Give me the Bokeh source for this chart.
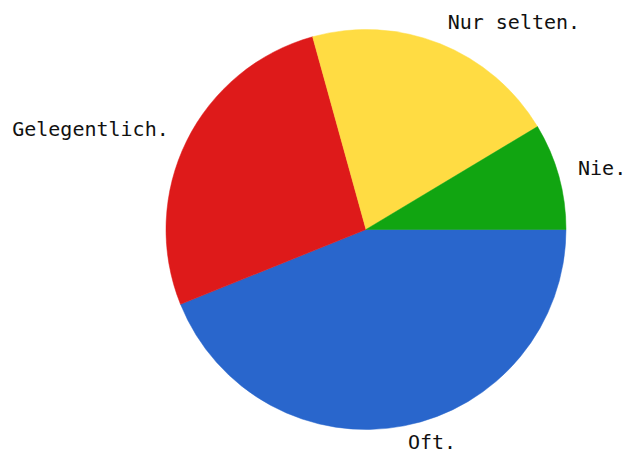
import numpy as np
from bokeh.plotting import figure
from bokeh.models import ColumnDataSource
from bokeh.core.properties import value
from bokeh.embed import file_html
from bokeh.resources import INLINE

# Data (clockwise from 3 o'clock)
categories = ["Oft.", "Gelegentlich.", "Nur selten.", "Nie."]
shares = [43.9, 26.8, 20.7, 8.6]
colors = ["#2966CC", "#DE1A1A", "#FFDC43", "#11A511"]

W, H = 627, 456
cx, cy, r = 365.5, 227.0, 200.0

vals = np.array(shares, dtype=float)
frac = vals / vals.sum()
cum = np.cumsum(frac) * 2 * np.pi
start = -np.concatenate([[0.0], cum[:-1]])
end = -cum
mid = (start + end) / 2

src = ColumnDataSource(dict(start=start, end=end, color=colors, cat=categories))

p = figure(width=W, height=H, x_range=(0, W), y_range=(0, H),
           output_backend="svg", toolbar_location=None, min_border=0)
p.axis.visible = False
p.grid.visible = False
p.outline_line_color = None
p.background_fill_color = "white"

p.wedge(x=cx, y=cy, radius=r, start_angle="start", end_angle="end",
        direction="clock", fill_color="color", line_color="color",
        line_width=0.5, source=src)

lr = 1.1 * r
lx = cx + lr * np.cos(mid)
ly = cy + lr * np.sin(mid) + 3
align = ["left" if np.cos(a) >= 0 else "right" for a in mid]
lsrc = ColumnDataSource(dict(x=lx, y=ly, text=categories, align=align))
p.text(x="x", y="y", text="text", text_align="align", text_baseline="middle",
       text_font=value("DejaVu Sans Mono"), text_font_size="20px",
       text_color="#111111", source=lsrc)

open("out.html", "w").write(file_html(p, INLINE))
